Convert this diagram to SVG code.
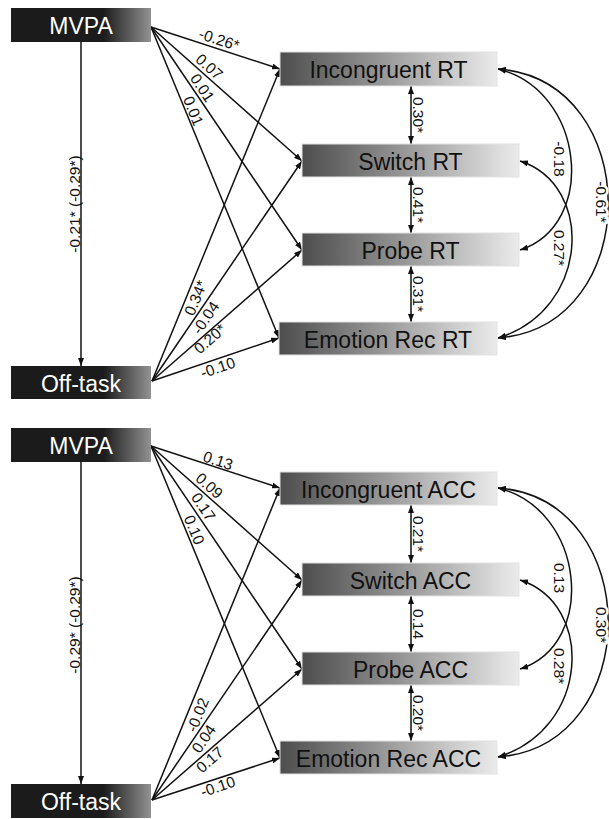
<svg xmlns="http://www.w3.org/2000/svg" width="609" height="819" viewBox="0 0 609 819">
<style>
.bt{font-family:"Liberation Sans",Arial,sans-serif;font-size:23px;text-anchor:middle}
.w{fill:#ffffff}
.k{fill:#111111}
.lb{font-family:"Liberation Sans",Arial,sans-serif;font-size:15.5px;text-anchor:middle;fill:#111111}
.halo{stroke:#ffffff;stroke-width:5px;paint-order:stroke}
.ln{fill:none;stroke:#111111;stroke-width:1.5}
.ar{marker-end:url(#ah)}
.da{marker-start:url(#ah);marker-end:url(#ah)}
.dk{fill:url(#gd)}
.lt{fill:url(#gl);stroke:#e2e2e2;stroke-width:1}
</style>
<defs>
<linearGradient id="gd" x1="0" y1="0" x2="1" y2="0">
<stop offset="0" stop-color="#1b1b1b"/>
<stop offset="0.66" stop-color="#1b1b1b"/>
<stop offset="1" stop-color="#929292"/>
</linearGradient>
<linearGradient id="gl" x1="0" y1="0" x2="1" y2="0">
<stop offset="0" stop-color="#4d4d4d"/>
<stop offset="1" stop-color="#ebebeb"/>
</linearGradient>
<marker id="ah" markerUnits="userSpaceOnUse" markerWidth="8" markerHeight="6" refX="8" refY="3" orient="auto-start-reverse">
<path d="M0,0 L8,3 L0,6 z" fill="#111111"/>
</marker>
</defs>
<rect width="609" height="819" fill="#ffffff"/>

<g id="connectors">
<g id="conn-top">
<path class="ln ar" d="M151,27 L280,69"/>
<path class="ln ar" d="M151,27 L302,161"/>
<path class="ln ar" d="M151,27 L302,250"/>
<path class="ln ar" d="M151,27 L279,338"/>
<path class="ln ar" d="M152,381 L280,69"/>
<path class="ln ar" d="M152,381 L302,161"/>
<path class="ln ar" d="M152,381 L302,250"/>
<path class="ln ar" d="M152,381 L279,338"/>
<path class="ln ar" d="M81,42 L81,366"/>
<path class="ln da" d="M411,86 L411,144"/>
<path class="ln da" d="M411,177 L411,233"/>
<path class="ln da" d="M411,266 L411,322"/>
<path class="ln da" d="M498,69 C585,90 598,225 520,250"/>
<path class="ln da" d="M520,161 C595,185 590,310 498,338"/>
<path class="ln da" d="M498,69 C645,80 645,327 498,338"/>
</g>
<g id="conn-bottom">
<path class="ln ar" d="M151,446 L280,488"/>
<path class="ln ar" d="M151,446 L302,580"/>
<path class="ln ar" d="M151,446 L302,669"/>
<path class="ln ar" d="M151,446 L280,758"/>
<path class="ln ar" d="M152,800 L280,488"/>
<path class="ln ar" d="M152,800 L302,580"/>
<path class="ln ar" d="M152,800 L302,669"/>
<path class="ln ar" d="M152,800 L280,758"/>
<path class="ln ar" d="M81,462 L81,784"/>
<path class="ln da" d="M411,505 L411,563"/>
<path class="ln da" d="M411,596 L411,652"/>
<path class="ln da" d="M411,685 L411,741"/>
<path class="ln da" d="M498,488 C585,509 598,644 520,669"/>
<path class="ln da" d="M520,580 C595,604 590,729 498,757"/>
<path class="ln da" d="M498,488 C645,499 645,746 498,757"/>
</g>
<g id="conn-labels">
<text class="lb" transform="translate(219,40) rotate(18)" y="5">-0.26*</text>
<text class="lb" transform="translate(209,67) rotate(41.6)" y="5">0.07</text>
<text class="lb" transform="translate(202,88) rotate(55.9)" y="5">0.01</text>
<text class="lb" transform="translate(193,111) rotate(67.6)" y="5">0.01</text>
<text class="lb" transform="translate(196,298) rotate(-67.7)" y="5">0.34*</text>
<text class="lb" transform="translate(206,318) rotate(-55.7)" y="5">-0.04</text>
<text class="lb" transform="translate(210,339) rotate(-41.1)" y="5">0.20*</text>
<text class="lb" transform="translate(218,368) rotate(-18.7)" y="5">-0.10</text>
<text class="lb" transform="translate(74.5,204) rotate(-90)" y="5">-0.21* (-0.29*)</text>
<text class="lb" transform="translate(418,115) rotate(90)" y="5">0.30*</text>
<text class="lb" transform="translate(418,205) rotate(90)" y="5">0.41*</text>
<text class="lb" transform="translate(418,294) rotate(90)" y="5">0.31*</text>
<text class="lb" transform="translate(559,159) rotate(90)" y="5">-0.18</text>
<text class="lb" transform="translate(559,248) rotate(90)" y="5">0.27*</text>
<text class="lb halo" transform="translate(601,202) rotate(90)" y="5">-0.61*</text>

<text class="lb" transform="translate(218,461) rotate(18)" y="5">0.13</text>
<text class="lb" transform="translate(209,486) rotate(41.6)" y="5">0.09</text>
<text class="lb" transform="translate(203,507) rotate(55.9)" y="5">0.17</text>
<text class="lb" transform="translate(194,530) rotate(67.5)" y="5">0.10</text>
<text class="lb" transform="translate(198,715) rotate(-67.7)" y="5">-0.02</text>
<text class="lb" transform="translate(204,739) rotate(-55.7)" y="5">0.04</text>
<text class="lb" transform="translate(210,760) rotate(-41.1)" y="5">0.17</text>
<text class="lb" transform="translate(218,787) rotate(-18.7)" y="5">-0.10</text>
<text class="lb" transform="translate(74.5,625) rotate(-90)" y="5">-0.29* (-0.29*)</text>
<text class="lb" transform="translate(418,534) rotate(90)" y="5">0.21*</text>
<text class="lb" transform="translate(418,624) rotate(90)" y="5">0.14</text>
<text class="lb" transform="translate(418,713) rotate(90)" y="5">0.20*</text>
<text class="lb" transform="translate(559,578) rotate(90)" y="5">0.13</text>
<text class="lb" transform="translate(559,666) rotate(90)" y="5">0.28*</text>
<text class="lb halo" transform="translate(601,625) rotate(90)" y="5">0.30*</text>
</g>
</g>

<g id="mvpa-rt"><rect class="dk" x="11" y="8" width="140" height="34"/><text class="bt w" x="81" y="34">MVPA</text></g>
<g id="offtask-rt"><rect class="dk" x="11" y="366" width="140" height="33"/><text class="bt w" x="81" y="391.5">Off-task</text></g>
<g id="incongruent-rt"><rect class="lt" x="280" y="52" width="217" height="34"/><text class="bt k" x="388.5" y="78">Incongruent RT</text></g>
<g id="switch-rt"><rect class="lt" x="302" y="144" width="217" height="33"/><text class="bt k" x="410.5" y="169.5">Switch RT</text></g>
<g id="probe-rt"><rect class="lt" x="302" y="233" width="217" height="33"/><text class="bt k" x="410.5" y="258.5">Probe RT</text></g>
<g id="emotion-rt"><rect class="lt" x="279" y="322" width="218" height="33"/><text class="bt k" x="388" y="347.5">Emotion Rec RT</text></g>

<g id="mvpa-acc"><rect class="dk" x="11" y="428" width="140" height="34"/><text class="bt w" x="81" y="454">MVPA</text></g>
<g id="offtask-acc"><rect class="dk" x="11" y="784" width="140" height="34"/><text class="bt w" x="81" y="810">Off-task</text></g>
<g id="incongruent-acc"><rect class="lt" x="280" y="472" width="217" height="33"/><text class="bt k" x="388.5" y="497.5">Incongruent ACC</text></g>
<g id="switch-acc"><rect class="lt" x="302" y="563" width="217" height="33"/><text class="bt k" x="410.5" y="588.5">Switch ACC</text></g>
<g id="probe-acc"><rect class="lt" x="302" y="652" width="217" height="33"/><text class="bt k" x="410.5" y="677.5">Probe ACC</text></g>
<g id="emotion-acc"><rect class="lt" x="280" y="741" width="217" height="33"/><text class="bt k" x="388.5" y="766.5">Emotion Rec ACC</text></g>
</svg>
